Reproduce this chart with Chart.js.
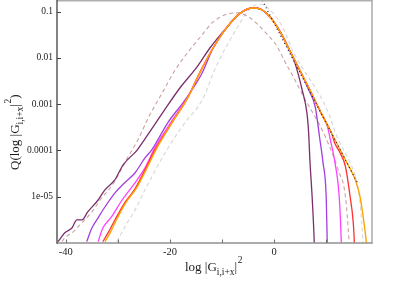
<!DOCTYPE html>
<html>
<head>
<meta charset="utf-8">
<script src="https://cdn.jsdelivr.net/npm/chart.js@4/dist/chart.umd.min.js"></script>
<style>
html,body{margin:0;padding:0;background:#fff;}
canvas{display:block;}
</style>
</head>
<body>
<canvas id="c" width="399" height="282"></canvas>
<script>
// ---- data ----
const xTickValues = [-40, -30, -20, -10, 0, 10];
const xTickLabels = ['-40', '', '-20', '', '0', ''];
const yTickValues = [1e-5, 1e-4, 1e-3, 1e-2, 1e-1];
const yTickLabels = ['1e-05', '0.0001', '0.001', '0.01', '0.1'];

const xOrange = [-32.5, -31.5, -30.4, -28.5, -26.5, -24.6, -22.7, -19.6, -16.5, -14.2, -11.7, -9.0, -6.5, -4.0, -2.7, -0.8, 1.2, 3.0, 5.0, 7.0, 9.0, 11.0, 13.0, 14.0, 15.6, 16.5, 17.1, 17.7, 18.0];
const yOrange = [1.07e-6, 1.66e-6, 3.0e-6, 7.4e-6, 1.5e-5, 3.8e-5, 1.03e-4, 4.0e-4, 1.44e-3, 5.0e-3, 0.0166, 0.047, 0.093, 0.12, 0.115, 0.077, 0.036, 0.0145, 0.0052, 0.0019, 6.5e-4, 2.4e-4, 8.9e-5, 5.4e-5, 2.3e-5, 1.0e-5, 3.7e-6, 1.07e-6, 4e-7];

const xRed = [-32.9, -31.9, -30.6, -28.7, -26.7, -24.8, -22.9, -19.6, -16.5, -14.2, -11.7, -9.0, -6.5, -4.0, -2.7, -0.8, 1.2, 3.0, 5.0, 7.0, 9.0, 11.0, 11.7, 12.7, 13.7, 14.6, 15.2, 15.4, 15.5];
const yRed = [1.07e-6, 1.66e-6, 3.1e-6, 7.4e-6, 1.5e-5, 3.8e-5, 1.03e-4, 4.0e-4, 1.44e-3, 5.0e-3, 0.0166, 0.047, 0.093, 0.12, 0.115, 0.077, 0.036, 0.0145, 0.0052, 0.0019, 6.5e-4, 2.4e-4, 1.4e-4, 8.7e-5, 4.5e-5, 1.0e-5, 2.75e-6, 1.07e-6, 4e-7];

const xMagenta = [-33.8, -32.9, -31.2, -29.2, -27.3, -24.8, -22.9, -19.6, -16.5, -14.2, -11.7, -9.0, -6.5, -4.0, -2.7, -0.8, 1.2, 3.0, 5.0, 7.0, 9.0, 10.2, 10.8, 11.7, 12.5, 12.9, 13.0];
const yMagenta = [1.07e-6, 2.1e-6, 3.7e-6, 8.5e-6, 1.63e-5, 4.2e-5, 1.15e-4, 4.4e-4, 1.5e-3, 5.0e-3, 0.0166, 0.047, 0.093, 0.12, 0.115, 0.077, 0.036, 0.0145, 0.0052, 0.0019, 6.5e-4, 3.4e-4, 1.7e-4, 5.4e-5, 1.0e-5, 1.07e-6, 4e-7];

const xPurple = [-36.0, -35.0, -33.8, -32.5, -30.6, -28.7, -26.7, -24.8, -23.5, -20.4, -17.1, -13.8, -11.9, -9.0, -6.5, -4.0, -2.7, -0.8, 1.2, 3.0, 5.0, 6.5, 7.9, 8.8, 9.4, 10.0, 10.2, 10.3];
const yPurple = [1.07e-6, 2.1e-6, 3.5e-6, 6.0e-6, 1.2e-5, 2.0e-5, 3.3e-5, 6.9e-5, 1.03e-4, 4.0e-4, 1.24e-3, 4.8e-3, 0.0149, 0.047, 0.093, 0.12, 0.115, 0.077, 0.036, 0.0145, 0.0052, 2.2e-3, 8.7e-4, 1.7e-4, 5.4e-5, 1.0e-5, 1.07e-6, 4e-7];

const xDark = [-41.5, -40.2, -38.8, -37.9, -36.9, -35.8, -33.8, -32.5, -30.6, -29.0, -26.3, -24.8, -21.3, -18.1, -14.8, -12.3, -9.0, -6.5, -4.0, -2.7, -0.8, 1.2, 3.0, 4.0, 5.4, 6.3, 6.6, 6.9, 7.3, 7.7, 7.8];
const yDark = [1.07e-6, 1.66e-6, 2.14e-6, 3.16e-6, 3.16e-6, 4.7e-6, 8.5e-6, 1.41e-5, 2.3e-5, 4.9e-5, 1.02e-4, 1.78e-4, 6.8e-4, 2.24e-3, 6.4e-3, 0.0166, 0.047, 0.093, 0.12, 0.115, 0.077, 0.036, 0.0145, 0.0078, 2.0e-3, 6.5e-4, 2.75e-4, 5.4e-5, 1.0e-5, 1.07e-6, 4e-7];

const xPink = [-41.5, -40.2, -38.8, -36.9, -35.0, -33.1, -31.2, -29.2, -28.1, -26.2, -24.2, -21.5, -19.0, -16.2, -14.2, -11.7, -9.0, -7.1, -4.6, -2.1, 0.6, 2.1, 4.0, 6.0, 8.5, 10.2, 12.3, 13.7, 14.4, 14.6];
const yPink = [8e-7, 1.3e-6, 1.66e-6, 2.75e-6, 4.7e-6, 9.5e-6, 1.7e-5, 4.2e-5, 7.1e-5, 1.66e-4, 5.0e-4, 1.75e-3, 5.5e-3, 0.0149, 0.028, 0.060, 0.089, 0.094, 0.073, 0.040, 0.0175, 8.2e-3, 3.35e-3, 1.24e-3, 4.0e-4, 1.6e-4, 3.8e-5, 1.0e-5, 1.07e-6, 4.3e-7];

const xGray = [-30.2, -28.7, -26.7, -24.8, -20.6, -17.1, -13.8, -11.2, -7.1, -4.6, -2.5, -0.3, 1.7, 3.7, 10.2, 12.1, 14.6, 15.6, 16.3, 16.8, 17.2];
const yGray = [1.07e-6, 2.2e-6, 5.2e-6, 1.41e-5, 1.03e-4, 4.0e-4, 1.24e-3, 6.3e-3, 0.045, 0.118, 0.145, 0.095, 0.045, 0.0135, 7.5e-4, 1.96e-4, 5.4e-5, 2.8e-5, 1.2e-5, 3e-6, 6e-7];

const xDotted = [-3.0, 16.0];
const yDotted = [0.25, 2.0e-5];

// ---- build chart ----
const pts = (xs, ys) => xs.map((v, i) => ({x: v, y: ys[i]}));
const series = [
  {xs: xDotted, ys: yDotted, color: '#1a1a3a', width: 1.2, dash: [1, 3], smooth: false},
  {xs: xOrange, ys: yOrange, color: '#ffa500', width: 1.4, dash: [], smooth: true},
  {xs: xRed, ys: yRed, color: '#ff3030', width: 1.3, dash: [], smooth: true},
  {xs: xMagenta, ys: yMagenta, color: '#ff40ff', width: 1.3, dash: [], smooth: true},
  {xs: xPurple, ys: yPurple, color: '#a33ee0', width: 1.3, dash: [], smooth: true},
  {xs: xDark, ys: yDark, color: '#7b2e6c', width: 1.3, dash: [], smooth: true},
  {xs: xPink, ys: yPink, color: '#c9a2a2', width: 1.1, dash: [4, 3], smooth: true},
  {xs: xGray, ys: yGray, color: '#d6d6d6', width: 1.1, dash: [4, 3], smooth: true}
];
const datasets = series.map(s => ({
  data: pts(s.xs, s.ys),
  borderColor: s.color,
  borderWidth: s.width,
  borderDash: s.dash,
  pointRadius: 0,
  fill: false,
  cubicInterpolationMode: s.smooth ? 'monotone' : 'default',
  tension: 0
}));

const SERIF = "'Liberation Serif', 'DejaVu Serif', serif";

function drawParts(ctx, parts, x0, y0) {
  let x = x0;
  for (const p of parts) {
    ctx.font = p.size + 'px ' + SERIF;
    ctx.fillText(p.t, x, y0 + p.dy);
    x += ctx.measureText(p.t).width + (p.gap || 0);
  }
}

const framePlugin = {
  id: 'frame',
  afterDraw(chart) {
    const {ctx, chartArea: a, scales} = chart;
    const xs = scales.x, ys = scales.y;
    ctx.save();
    ctx.lineCap = 'butt';
    ctx.strokeStyle = '#b0b0b0';
    ctx.lineWidth = 1.6;
    ctx.beginPath(); ctx.moveTo(a.left, 0.8); ctx.lineTo(a.right + 0.8, 0.8); ctx.stroke();
    ctx.beginPath(); ctx.moveTo(a.right, 0); ctx.lineTo(a.right, a.bottom); ctx.stroke();
    ctx.strokeStyle = '#909090';
    ctx.lineWidth = 1.5;
    ctx.beginPath(); ctx.moveTo(a.left, a.bottom); ctx.lineTo(a.right + 0.8, a.bottom); ctx.stroke();
    ctx.strokeStyle = '#404040';
    ctx.lineWidth = 1.3;
    ctx.beginPath(); ctx.moveTo(a.left, 0); ctx.lineTo(a.left, a.bottom + 0.7); ctx.stroke();
    ctx.lineWidth = 1;
    ctx.strokeStyle = '#404040';
    for (const v of yTickValues) {
      const py = Math.round(ys.getPixelForValue(v)) + 0.5;
      ctx.beginPath(); ctx.moveTo(a.left, py); ctx.lineTo(a.left + 4, py); ctx.stroke();
    }
    ctx.strokeStyle = '#707070';
    for (const v of xTickValues) {
      const px = Math.round(xs.getPixelForValue(v)) + 0.5;
      ctx.beginPath(); ctx.moveTo(px, a.bottom); ctx.lineTo(px, a.bottom - 3.5); ctx.stroke();
    }
    ctx.fillStyle = '#1a1a1a';
    ctx.textAlign = 'left';
    ctx.textBaseline = 'alphabetic';
    drawParts(ctx, [
      {t: 'log |G', size: 13, dy: 0},
      {t: 'i,i+x', size: 9.5, dy: 4},
      {t: '|', size: 13, dy: 0, gap: 0.5},
      {t: '2', size: 9.5, dy: -8}
    ], 185, 271);
    ctx.save();
    ctx.translate(19, 170);
    ctx.rotate(-Math.PI / 2);
    drawParts(ctx, [
      {t: 'Q(log |G', size: 13, dy: 0},
      {t: 'i,i+x', size: 9.5, dy: 4},
      {t: '|', size: 13, dy: 0, gap: 0.5},
      {t: '2', size: 9.5, dy: -8},
      {t: ')', size: 13, dy: 0}
    ], 0, 0);
    ctx.restore();
    ctx.restore();
  }
};

const zeroPad = s => { s.paddingTop = 0; s.paddingBottom = 0; s.paddingLeft = 0; s.paddingRight = 0; };

new Chart(document.getElementById('c').getContext('2d'), {
  type: 'line',
  data: {datasets},
  options: {
    responsive: false,
    animation: false,
    devicePixelRatio: 1,
    layout: {padding: {left: 0, right: 27, top: 1, bottom: 0}},
    plugins: {legend: {display: false}, tooltip: {enabled: false}, title: {display: false}},
    scales: {
      x: {
        type: 'linear', min: -41.7, max: 18.8,
        grid: {display: false, drawTicks: false},
        border: {display: false},
        afterBuildTicks: s => { s.ticks = xTickValues.map(v => ({value: v})); },
        ticks: {
          autoSkip: false, maxRotation: 0, padding: 3,
          color: '#222', font: {family: SERIF, size: 10.5},
          callback: (v) => { const i = xTickValues.indexOf(v); return i >= 0 ? xTickLabels[i] : ''; }
        },
        afterFit: s => { s.height = 39; zeroPad(s); }
      },
      y: {
        type: 'logarithmic', min: 1e-6, max: 0.17,
        grid: {display: false, drawTicks: false},
        border: {display: false},
        afterBuildTicks: s => { s.ticks = yTickValues.map(v => ({value: v})); },
        ticks: {
          autoSkip: false, padding: 4,
          color: '#222', font: {family: SERIF, size: 9.5},
          callback: (v) => { const i = yTickValues.findIndex(t => Math.abs(t - v) / t < 1e-6); return i >= 0 ? yTickLabels[i] : ''; }
        },
        afterFit: s => { s.width = 57; zeroPad(s); }
      }
    }
  },
  plugins: [framePlugin]
});
</script>
</body>
</html>
